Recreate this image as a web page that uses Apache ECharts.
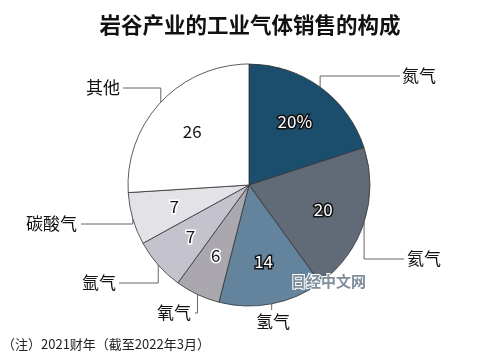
<!DOCTYPE html>
<html><head><meta charset="utf-8">
<script src="https://cdn.jsdelivr.net/npm/echarts@6/dist/echarts.min.js"></script>
<style>html,body{margin:0;padding:0;background:#fff}#c{width:500px;height:358px}</style>
</head><body><div id="c"></div>
<script>
const categories = ['氮气', '氦气', '氢气', '氧气', '氩气', '碳酸气', '其他'];
const shares = [20, 20, 14, 6, 7, 7, 26];
const shareLabels = ['20%', '20', '14', '6', '7', '7', '26'];
const titleText = '岩谷产业的工业气体销售的构成';
const noteText = '（注）2021财年（截至2022年3月）';

// styles
const palette = ['#1b4e6d', '#616a77', '#64849d', '#aaa7ae', '#c4c3cd', '#e2e2e7', '#ffffff'];
const innerStyle = ['light', 'light', 'light', 'dark', 'dark', 'dark', 'plain'];
// outer label anchors: [x, y, align, lineEndX]
const outerSpots = [
  [402, 76, 'left', 400],
  [407, 259, 'left', 404],
  [273, 322, 'center', null],
  [191, 313, 'right', 195],
  [116, 283, 'right', 119],
  [77, 224, 'right', 81],
  [120, 88, 'right', 123]
];
const FONT = '"Noto Sans CJK SC", "Noto Sans", sans-serif';

const chart = echarts.init(document.getElementById('c'), null, {renderer: 'canvas'});

const innerLabelStyles = {
  light: {color: '#ffffff', textBorderColor: '#111111', textBorderWidth: 3},
  dark: {color: '#111111', textBorderColor: '#ffffff', textBorderWidth: 3},
  plain: {color: '#111111', textBorderWidth: 0}
};

const mainData = categories.map((n, i) => ({name: n, value: shares[i], itemStyle: {color: palette[i]}}));
const overlayData = categories.map((n, i) => ({
  name: n, value: shares[i],
  label: Object.assign({formatter: shareLabels[i]}, innerLabelStyles[innerStyle[i]])
}));

chart.setOption({
  animation: false,
  backgroundColor: '#ffffff',
  title: {
    text: titleText, left: 'center', top: 9,
    textStyle: {fontFamily: FONT, fontSize: 21.5, fontWeight: 'bold', color: '#111'}
  },
  graphic: [
    {type: 'text', left: 2, top: 338, z: 100, style: {text: noteText, font: '13px ' + FONT, fill: '#222'}},
    {type: 'text', left: 290, top: 273, z: 100, style: {text: '日经中文网', font: 'bold 15px ' + FONT, fill: '#7f8d9b', stroke: '#ffffff', lineWidth: 2}}
  ],
  series: [
    {
      type: 'pie', center: [249, 185], radius: 121, startAngle: 90, clockwise: true,
      silent: true, avoidLabelOverlap: false,
      itemStyle: {borderColor: '#333', borderWidth: 0.8},
      label: {show: true, position: 'outside', formatter: '{b}', fontFamily: FONT, fontSize: 17, color: '#111'},
      labelLine: {show: true, length: 10, length2: 10, lineStyle: {color: '#666', width: 1}},
      labelLayout: function (p) {
        const s = outerSpots[p.dataIndex];
        const pts = p.labelLinePoints;
        const start = pts ? pts[0] : [s[0], s[1]];
        const lineY = s[2] === 'center' ? s[1] - 12 : s[1];
        const endX = s[3] == null ? start[0] : s[3];
        return {
          x: s[0], y: s[1], align: s[2], verticalAlign: 'middle',
          labelLinePoints: [start, [start[0], lineY], [endX, lineY]]
        };
      },
      data: mainData
    },
    {
      type: 'pie', center: [249, 185], radius: [29, 121], startAngle: 90, clockwise: true,
      silent: true, avoidLabelOverlap: false,
      itemStyle: {color: 'rgba(0,0,0,0)', borderWidth: 0},
      label: {show: true, position: 'inside', fontFamily: FONT, fontSize: 17},
      labelLine: {show: false},
      data: overlayData
    }
  ]
});
</script></body></html>
